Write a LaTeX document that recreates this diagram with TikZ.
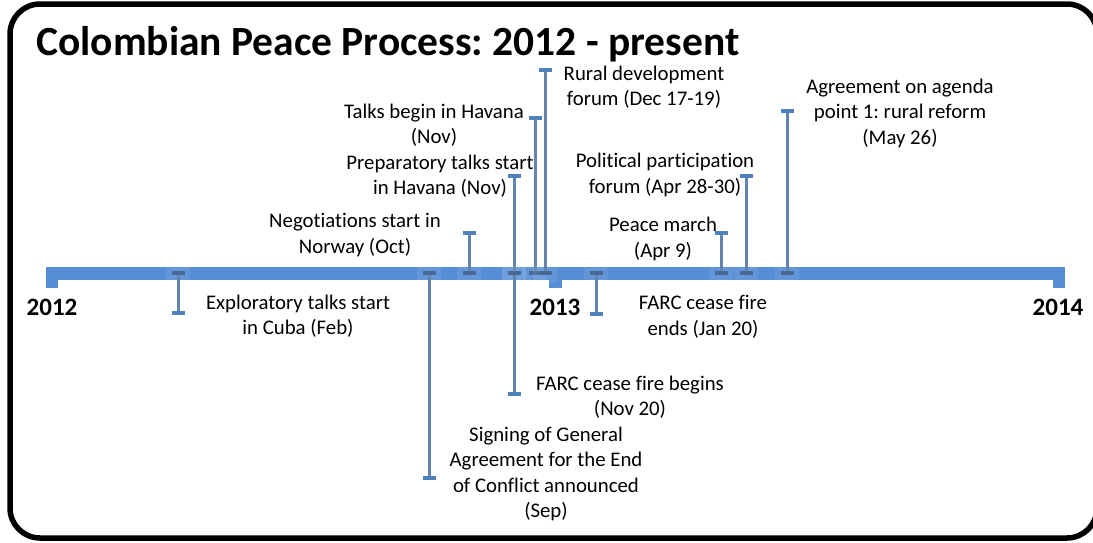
\documentclass[tikz,border=0pt]{standalone}
\usepackage{fontspec}
\setmainfont{Carlito}[Ligatures=NoCommon]
\frenchspacing
\definecolor{barblue}{RGB}{85,142,213}
\definecolor{stemblue}{RGB}{98,131,174}
\definecolor{capblue}{RGB}{79,129,189}
\definecolor{capdark}{RGB}{72,104,148}
\tikzset{
  stemline/.style={draw=stemblue, line width=3pt},
  endcap/.style={draw=capblue, line width=4pt},
  barcap/.style={draw=capdark, line width=3.5pt},
  halo/.style={fill=white, fill opacity=0.08, draw=none},
  lbl/.style={align=center, font=\frenchspacing\fontsize{20.8}{25.5}\selectfont, inner sep=0pt},
  yearlbl/.style={font=\bfseries\fontsize{25}{30}\selectfont, inner sep=0pt},
  titlelbl/.style={font=\frenchspacing\bfseries\fontsize{41.5}{44}\selectfont, inner sep=0pt, anchor=base west},
}
\begin{document}
\begin{tikzpicture}[x=1pt,y=-1pt]
\useasboundingbox (0,0) rectangle (1093,542);
\begin{scope}
\clip (0,0) rectangle (1093,542);
\draw[line width=5.5pt, rounded corners=30pt] (10,4) rectangle (1097,538);
\end{scope}
% title
\node[titlelbl] (title) at (36,55) {Colombian Peace Process: 2012 - present};
% timeline bar
\fill[barblue] (46,267) rectangle (1065,280);
\fill[barblue] (46,280) rectangle (58,288);
\fill[barblue] (549,280) rectangle (562,288);
\fill[barblue] (1053,280) rectangle (1065,288);
% years
\node[yearlbl] (y2012) at (52,307) {2012};
\node[yearlbl] (y2013) at (555,307) {2013};
\node[yearlbl] (y2014) at (1058,307) {2014};
% events: name / x / free end y
\foreach \n/\x/\y in {exp/178/313, neg/469/233, sig/429/478, prep/514/176, talks/535/118,
                      rural/545/70, farcb/514/394, farce/596/314, peace/721/233,
                      pol/746/176, agr/787/111}{
  \coordinate (\n-end) at (\x,\y);
  \coordinate (\n-bar) at (\x,273);
  \fill[halo] ([xshift=-12pt,yshift=7pt]\n-bar) rectangle ([xshift=12pt,yshift=-9pt]\n-bar);
  \draw[stemline] (\n-bar) -- (\n-end);
  \draw[endcap] ([xshift=-6.5pt]\n-end) -- ([xshift=6.5pt]\n-end);
  \draw[barcap] ([xshift=-6.5pt]\n-bar) -- ([xshift=6.5pt]\n-bar);
}
% labels
\node[lbl] (lexp) at (298,316) {Exploratory talks start\\in Cuba (Feb)};
\node[lbl] (lneg) at (355,235) {Negotiations start in\\Norway (Oct)};
\node[lbl] (lsig) at (546,474) {Signing of General\\Agreement for the End\\of Conflict announced\\(Sep)};
\node[lbl] (lprep) at (440,176) {Preparatory talks start\\in Havana (Nov)};
\node[lbl] (ltalks) at (434,125) {Talks begin in Havana\\(Nov)};
\node[lbl] (lrural) at (644,87) {Rural development\\forum (Dec 17-19)};
\node[lbl] (lfarcb) at (630,397) {FARC cease fire begins\\(Nov 20)};
\node[lbl] (lfarce) at (703,317) {FARC cease fire\\ends (Jan 20)};
\node[lbl] (lpeace) at (663,239) {Peace march\\(Apr 9)};
\node[lbl] (lpol) at (665,175) {Political participation\\forum (Apr 28-30)};
\node[lbl] (lagr) at (900,113) {Agreement on agenda\\point 1: rural reform\\(May 26)};
\end{tikzpicture}
\end{document}
